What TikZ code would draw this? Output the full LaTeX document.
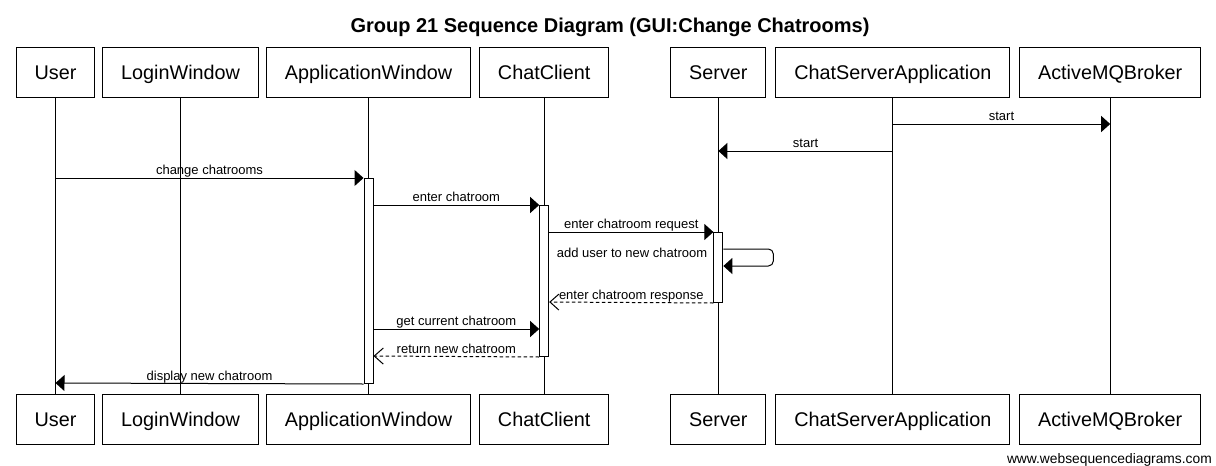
\documentclass[tikz,border=0pt]{standalone}
\usepackage{fontspec}
\setmainfont{Liberation Sans}
\usepackage{tikz}
\usetikzlibrary{
  positioning,
  arrows.meta,
}
\tikzset{
  actor/.style={
    draw,
    black,
    line width=1pt,
    fill=white,
    inner xsep=18.4pt,
    inner ysep=0pt,
    minimum height=50pt,
    text height=14.2pt,
    text depth=0pt,
    font=\fontsize{19.8}{24}\selectfont
  },
  lifeline/.style={
    line width=1pt
  },
  actbar/.style={
    draw,
    line width=1pt,
    fill=white,
    anchor=north,
    minimum width=9pt,
    inner sep=0pt
  },
  msg/.style={
    line width=1pt,
    -{Triangle[length=9pt,width=16pt]}
  },
  reply/.style={
    line width=1pt,
    dash pattern=on 3.5pt off 2.5pt,
    -{Straight Barb[length=9pt,width=16pt,line width=1pt]}
  },
  lbl/.style={
    above=3pt,
    inner sep=0pt,
    text depth=0pt,
    font=\fontsize{13}{15}\selectfont
  }
}

\begin{document}
\begin{tikzpicture}[x=1pt, y=-1pt]
  \fill[white] (0,0) rectangle (1216,466);
  \useasboundingbox (0,0) rectangle (1216,466);

  \node[anchor=base, font=\bfseries\fontsize{20}{24}\selectfont] (title) at (610,32)
    {Group 21 Sequence Diagram (GUI:Change Chatrooms)};

  % participants
  \node[actor]                   (user)  at (55.5,72) {User};
  \node[actor, right=7pt of user]  (login) {LoginWindow};
  \node[actor, right=7pt of login] (app)   {ApplicationWindow};
  \node[actor, right=8pt of app]   (cc)    {ChatClient};
  \node[actor, right=61pt of cc]   (srv)   {Server};
  \node[actor, right=9pt of srv]   (csa)   {ChatServerApplication};
  \node[actor, right=9pt of csa]   (amq)   {ActiveMQBroker};

  \node[actor, below=296pt of user]  (userB)  {User};
  \node[actor, below=296pt of login] (loginB) {LoginWindow};
  \node[actor, below=296pt of app]   (appB)   {ApplicationWindow};
  \node[actor, below=296pt of cc]    (ccB)    {ChatClient};
  \node[actor, below=296pt of srv]   (srvB)   {Server};
  \node[actor, below=296pt of csa]   (csaB)   {ChatServerApplication};
  \node[actor, below=296pt of amq]   (amqB)   {ActiveMQBroker};

  \foreach \a/\b in {user/userB, login/loginB, app/appB, cc/ccB, srv/srvB, csa/csaB, amq/amqB}
    \draw[lifeline] (\a.south) -- (\b.north);

  % message rows
  \coordinate (r1)  at (0,124);
  \coordinate (r2)  at (0,151);
  \coordinate (r3)  at (0,178);
  \coordinate (r4)  at (0,205);
  \coordinate (r5)  at (0,232);
  \coordinate (r6)  at (0,249);
  \coordinate (r6l) at (0,257);
  \coordinate (r6b) at (0,266);
  \coordinate (r7)  at (0,302);
  \coordinate (r8)  at (0,329);
  \coordinate (r9)  at (0,356);
  \coordinate (r10) at (0,383);

  % activations
  \node[actbar, minimum height=205pt] (appAct) at (app |- r3) {};
  \node[actbar, minimum height=151pt] (ccAct)  at (cc |- r4)  {};
  \node[actbar, minimum height=70pt]  (srvAct) at (srv |- r5) {};

  \draw[msg] (csa |- r1) -- node[lbl] {start} (amq |- r1);
  \draw[msg] (csa |- r2) -- node[lbl] {start} (srv |- r2);
  \draw[msg] (user |- r3) -- node[lbl] {change chatrooms} (appAct.north west);
  \draw[msg] (appAct.east |- r4) -- node[lbl] {enter chatroom} (ccAct.north west);
  \draw[msg] (ccAct.east |- r5) -- node[lbl] {enter chatroom request} (srvAct.north west);
  \draw[msg, rounded corners=5pt] (srvAct.east |- r6) -- ++(50pt,0pt) |- (srvAct.east |- r6b);
  \node[anchor=base east, inner xsep=6pt, inner ysep=0pt, font=\fontsize{13}{15}\selectfont]
    (selfLbl) at (srvAct.west |- r6l) {add user to new chatroom};
  \draw[reply] (srvAct.south west) -- node[lbl] {enter chatroom response} (ccAct.east |- r7);
  \draw[msg] (appAct.east |- r8) -- node[lbl] {get current chatroom} (ccAct.west |- r8);
  \draw[reply] (ccAct.south west) -- node[lbl] {return new chatroom} (appAct.east |- r9);
  \draw[msg] (appAct.south west) -- node[lbl] {display new chatroom} (user |- r10);

  \node[anchor=base east, inner sep=0pt, font=\fontsize{13.8}{16}\selectfont]
    (credit) at (1212,463) {www.websequencediagrams.com};
\end{tikzpicture}
\end{document}
